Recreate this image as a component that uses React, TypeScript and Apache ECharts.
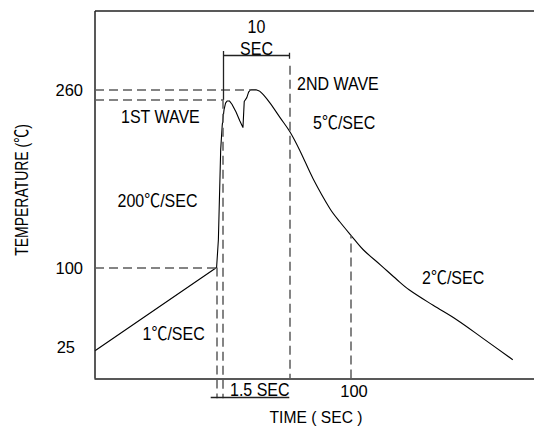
import React, { useEffect, useRef } from "react";
import * as echarts from "echarts";

// Schematic time position (axis units) and temperature (°C) of the solder profile
// Heating part (preheat ramp, 1st wave, 2nd wave peak)
const heatTime = [0, 47.5, 48.2, 49.1, 49.7, 50.4, 51.0, 51.6, 52.5, 53.5, 55.1, 56.6, 57.8, 58.3, 59.3, 60.0, 60.7, 62.9, 64.2];
const heatTemp = [25, 100, 125, 206, 228, 242, 248, 250, 250, 247, 240, 232, 226, 249.5, 253, 258, 260, 260, 259];
// Cooling part (5 °C/s then 2 °C/s)
const coolTime = [64.2, 66.0, 68.4, 72.3, 76.2, 80.1, 85.2, 91.8, 95.7, 100, 104.8, 111.7, 118.0, 122.7, 132.1, 141.3, 151.7, 163.2];
const coolTemp = [259, 255, 248, 235, 222, 205, 180, 153, 141, 129, 116, 102, 89, 80, 66, 53, 36, 17];

// Tick labels
const yTickValues = [25, 100, 260];
const xTickValues = [100];

// Axis ranges (schematic units)
const xMax = 171.5;
const yMin = -40;
const yMax = 331;

// Guide segments in data units [[x0, y0], [x1, y1]]
const dashedSegments = [
  [[0, 100], [47.5, 100]],
  [[0, 251], [50, 251]],
  [[0, 260], [61, 260]],
  [[47.5, 100], [47.5, -17.7]],
  [[50, 251], [50, -17.7]],
  [[75.9, 281.7], [75.9, 0]],
];
const tickGuide = [[xTickValues[0], 0], [xTickValues[0], 129]];
const solidSegments = [
  [[50, 295], [50, 251]],
  [[50, 291], [75.9, 291]],
  [[75.9, 293.4], [75.9, 288]],
  [[45.2, -17.2], [75.9, -17.2]],
];
const frameSegments = [
  [[0, 0], [0, yMax]],
  [[0, yMax], [xMax, yMax]],
];

const FONT = "'Liberation Sans', Arial, 'Noto Sans CJK SC', sans-serif";

function seg(s: number[][], style: any, label: any = undefined) {
  const first: any = { coord: s[0], lineStyle: style };
  if (label) first.label = label;
  return [first, { coord: s[1] }];
}

function txt(text: string, x: number, y: number, align: string, extra: any = {}) {
  const { fontSize, ...rest } = extra;
  return {
    type: "text",
    x,
    y,
    silent: true,
    scaleX: 0.865,
    ...rest,
    style: {
      text,
      align,
      verticalAlign: "middle",
      fontFamily: FONT,
      fontSize: fontSize || 18.5,
      fill: "#000",
    },
  };
}

export default function App() {
  const ref = useRef<HTMLDivElement>(null);
  useEffect(() => {
    const chart = echarts.init(ref.current!, null, { renderer: "svg" });
    const dashStyle = { color: "#5c5c5c", width: 1.5, type: [9, 5] };
    const solidStyle = { color: "#222", width: 1.3, type: "solid" };
    const frameStyle = { color: "#222", width: 1.5, type: "solid" };
    const curveStyle = { color: "#000", width: 1.1 };
    const option: any = {
      animation: false,
      backgroundColor: "#fff",
      grid: { left: 95, right: 0, top: 11, bottom: 4, containLabel: false, outerBoundsMode: "none" },
      xAxis: {
        type: "value",
        min: 0,
        max: xMax,
        axisLine: { show: true, onZero: true, lineStyle: { color: "#222", width: 1.5 } },
        axisTick: { show: false },
        splitLine: { show: false },
        axisLabel: { show: false },
      },
      yAxis: {
        type: "value",
        min: yMin,
        max: yMax,
        axisLine: { show: false },
        axisTick: { show: false },
        splitLine: { show: false },
        axisLabel: {
          customValues: yTickValues,
          margin: 12,
          formatter: (v: number) => (v === 25 ? "{s|" + v + "}" : "{n|" + v + "}"),
          rich: {
            n: { fontFamily: FONT, fontSize: 16.5, color: "#000" },
            s: { fontFamily: FONT, fontSize: 16.5, color: "#000", padding: [0, 8, 8, 0] },
          },
        },
      },
      series: [
        {
          type: "line",
          data: heatTime.map((t, i) => [t, heatTemp[i]]),
          showSymbol: false,
          symbol: "none",
          clip: false,
          lineStyle: curveStyle,
          markLine: {
            silent: true,
            symbol: ["none", "none"],
            label: { show: false },
            emphasis: { disabled: true },
            data: [
              ...frameSegments.map((s) => seg(s, frameStyle)),
              ...dashedSegments.map((s) => seg(s, dashStyle)),
              seg(tickGuide, dashStyle, {
                show: true,
                position: "start",
                distance: 4,
                formatter: "{a|" + xTickValues[0] + "}",
                rich: { a: { fontFamily: FONT, fontSize: 16.5, color: "#000", padding: [0, 0, 0, 6] } },
              }),
              ...solidSegments.map((s) => seg(s, solidStyle)),
            ],
          },
        },
        {
          type: "line",
          data: coolTime.map((t, i) => [t, coolTemp[i]]),
          showSymbol: false,
          symbol: "none",
          smooth: 0.35,
          clip: false,
          lineStyle: curveStyle,
        },
      ],
      graphic: [
        txt("10", 256.5, 27, "center"),
        txt("SEC", 256.5, 49, "center"),
        txt("2ND WAVE", 297, 83.5, "left"),
        txt("1ST WAVE", 121, 117, "left"),
        txt("5℃/SEC", 313, 123, "left"),
        txt("200℃/SEC", 117.5, 200.5, "left"),
        txt("2℃/SEC", 422, 278, "left"),
        txt("1℃/SEC", 142.5, 333.5, "left"),
        txt("1.5 SEC", 230, 389.5, "left"),
        txt("TIME ( SEC )", 316, 416.5, "center", { fontSize: 17, scaleX: 0.92 }),
        txt("TEMPERATURE (℃)", 21.5, 190, "center", { rotation: Math.PI / 2, fontSize: 18.5, scaleX: 0.756 }),
      ],
    };
    chart.setOption(option);
    return () => chart.dispose();
  }, []);
  return (
    <div
      ref={ref}
      style={{ position: "absolute", left: 0, top: 0, width: 534, height: 427, background: "#fff" }}
    />
  );
}
